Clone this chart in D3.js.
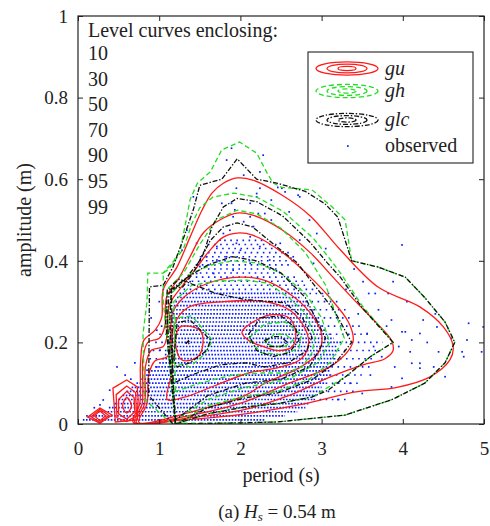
<!DOCTYPE html>
<html>
<head>
<meta charset="utf-8">
<script src="https://cdn.jsdelivr.net/npm/d3@7"></script>
<style>
body { margin: 0; background: #fff; }
text { font-family: "Liberation Serif", "Times New Roman", serif; fill: #222; }
</style>
</head>
<body>
<div id="chart"></div>
<script>
// level curves, [period (s), amplitude (m)]
const levels = [10, 30, 50, 70, 90, 95, 99];

const guCurves = [
  [99, [[0.68,0.004],[0.76,0.05],[0.77,0.15],[0.81,0.205],[0.95,0.23],[1.03,0.26],[1.05,0.33],[1.22,0.385],[1.38,0.458],[1.53,0.525],[1.65,0.566],[1.79,0.59],[1.96,0.603],[2.15,0.598],[2.52,0.56],[2.86,0.51],[3.23,0.427],[3.7,0.335],[4.21,0.287],[4.5,0.238],[4.62,0.19],[4.58,0.157],[4.33,0.115],[3.93,0.09],[3.4,0.078],[2.8,0.05],[2.06,0.025],[1.3,0.01]]],
  [95, [[0.7,0.004],[0.79,0.05],[0.8,0.16],[0.86,0.2],[1.0,0.21],[1.07,0.24],[1.09,0.31],[1.25,0.36],[1.38,0.41],[1.55,0.47],[1.79,0.505],[1.96,0.517],[2.15,0.512],[2.52,0.475],[2.86,0.42],[3.14,0.36],[3.42,0.3],[3.68,0.247],[3.86,0.205],[3.88,0.18],[3.78,0.16],[3.51,0.145],[3.1,0.115],[2.6,0.07],[2.06,0.036],[1.4,0.016]]],
  [90, [[0.72,0.004],[0.82,0.05],[0.83,0.14],[0.9,0.18],[1.05,0.19],[1.1,0.22],[1.12,0.29],[1.27,0.335],[1.45,0.38],[1.6,0.42],[1.79,0.458],[1.96,0.468],[2.15,0.463],[2.52,0.42],[2.86,0.36],[3.1,0.31],[3.33,0.25],[3.39,0.206],[3.33,0.18],[3.1,0.14],[2.6,0.1],[2.06,0.055],[1.4,0.022]]],
  [70, [[0.75,0.004],[0.85,0.05],[0.87,0.12],[0.95,0.155],[1.1,0.165],[1.14,0.2],[1.16,0.27],[1.3,0.31],[1.6,0.345],[2.0,0.36],[2.3,0.352],[2.6,0.32],[2.85,0.275],[3.0,0.22],[2.96,0.175],[2.7,0.135],[2.3,0.1],[2.06,0.07],[1.4,0.03]]],
  [50, [[1.1,0.06],[1.16,0.13],[1.18,0.24],[1.35,0.285],[1.8,0.3],[2.3,0.3],[2.6,0.28],[2.78,0.24],[2.84,0.2],[2.75,0.16],[2.5,0.14],[2.1,0.125],[1.7,0.095],[1.3,0.065]]],
  [30, [[2.02,0.225],[2.2,0.255],[2.4,0.268],[2.6,0.26],[2.68,0.225],[2.64,0.19],[2.47,0.18],[2.28,0.19],[2.1,0.205]]],
  [30, [[1.2,0.2],[1.26,0.238],[1.5,0.23],[1.54,0.2],[1.47,0.164],[1.28,0.157]]],
  [10, [[0.55,0.045],[0.6,0.065],[0.66,0.045],[0.6,0.027]]]
];

const guIslands = [
  [30, [[0.5,0.06],[0.6,0.08],[0.69,0.065],[0.7,0.03],[0.6,0.012],[0.5,0.025]]],
  [50, [[0.47,0.072],[0.6,0.093],[0.71,0.077],[0.72,0.02],[0.6,0.006],[0.48,0.015]]],
  [70, [[0.43,0.088],[0.6,0.108],[0.73,0.091],[0.74,0.059],[0.73,0.01],[0.46,0.005]]],
  [30, [[0.2,0.02],[0.27,0.032],[0.34,0.02],[0.27,0.008]]],
  [50, [[0.16,0.018],[0.27,0.036],[0.38,0.021],[0.27,0.004]]],
  [70, [[0.12,0.017],[0.27,0.039],[0.42,0.022],[0.27,0.002]]]
];

const ghCurves = [
  [99, [[1.15,0.002],[0.82,0.06],[0.8,0.22],[0.85,0.3],[0.86,0.37],[1.05,0.37],[1.17,0.397],[1.26,0.426],[1.29,0.458],[1.34,0.507],[1.38,0.55],[1.47,0.59],[1.63,0.618],[1.77,0.672],[1.99,0.691],[2.2,0.664],[2.33,0.615],[2.4,0.591],[2.51,0.58],[2.88,0.574],[3.13,0.532],[3.29,0.5],[3.37,0.40],[3.69,0.385],[4.03,0.36],[4.27,0.31],[4.52,0.25],[4.64,0.2],[4.52,0.15],[4.27,0.1],[3.87,0.06],[3.29,0.022],[2.46,0.005],[1.6,0.002]]],
  [95, [[1.2,0.0],[1.05,0.3],[1.05,0.37],[1.12,0.38],[1.3,0.43],[1.4,0.49],[1.5,0.53],[1.66,0.556],[1.92,0.566],[2.2,0.556],[2.52,0.522],[2.9,0.455],[3.1,0.405],[3.25,0.365],[3.5,0.29],[3.88,0.2],[3.6,0.165],[3.29,0.115],[2.88,0.066],[2.46,0.05],[2.06,0.042],[1.6,0.025]]],
  [90, [[1.2,0.0],[1.08,0.25],[1.1,0.33],[1.3,0.37],[1.5,0.44],[1.7,0.5],[1.96,0.524],[2.2,0.515],[2.5,0.48],[2.8,0.42],[3.05,0.34],[3.28,0.21],[3.1,0.15],[2.85,0.11],[2.46,0.08],[2.06,0.068],[1.6,0.045]]],
  [70, [[1.2,0.01],[1.12,0.25],[1.15,0.32],[1.4,0.37],[1.65,0.39],[1.9,0.40],[2.2,0.395],[2.5,0.37],[2.8,0.32],[3.0,0.26],[3.1,0.2],[2.95,0.15],[2.6,0.11],[2.06,0.09],[1.6,0.06]]],
  [50, [[1.2,0.08],[1.18,0.3],[1.4,0.34],[1.7,0.35],[2.06,0.353],[2.34,0.345],[2.59,0.311],[2.8,0.272],[2.92,0.213],[2.88,0.174],[2.76,0.14],[2.55,0.125],[2.27,0.125],[1.9,0.12],[1.5,0.1]]],
  [30, [[1.18,0.15],[1.2,0.26],[1.4,0.265],[1.66,0.205],[1.55,0.17],[1.38,0.14]]],
  [30, [[2.1,0.21],[2.3,0.245],[2.55,0.25],[2.75,0.22],[2.72,0.185],[2.5,0.17],[2.25,0.175]]],
  [10, [[2.3,0.2],[2.42,0.22],[2.55,0.22],[2.65,0.205],[2.55,0.19],[2.4,0.19]]]
];

const glcCurves = [
  [99, [[1.17,0.0],[0.87,0.07],[0.88,0.336],[1.05,0.34],[1.17,0.385],[1.29,0.45],[1.42,0.525],[1.5,0.585],[1.77,0.6],[1.96,0.65],[2.2,0.6],[2.46,0.59],[2.8,0.57],[3.04,0.54],[3.2,0.507],[3.37,0.40],[3.69,0.385],[4.03,0.36],[4.27,0.31],[4.52,0.25],[4.64,0.2],[4.52,0.15],[4.27,0.1],[3.87,0.06],[3.29,0.022],[2.46,0.005],[2.06,0.003]]],
  [95, [[1.2,0.0],[1.08,0.25],[1.1,0.33],[1.29,0.336],[1.42,0.37],[1.56,0.426],[1.65,0.483],[1.79,0.532],[1.96,0.553],[2.2,0.545],[2.52,0.51],[2.86,0.445],[3.07,0.395],[3.23,0.36],[3.5,0.285],[3.88,0.2],[3.6,0.165],[3.29,0.115],[3.08,0.083],[2.88,0.066],[2.46,0.05],[2.06,0.042],[1.6,0.025]]],
  [90, [[1.2,0.0],[1.1,0.25],[1.12,0.32],[1.3,0.35],[1.5,0.4],[1.63,0.45],[1.79,0.483],[1.96,0.493],[2.15,0.483],[2.45,0.434],[2.7,0.395],[2.86,0.353],[3.15,0.28],[3.37,0.2],[3.17,0.15],[2.88,0.108],[2.46,0.076],[2.06,0.064],[1.6,0.04]]],
  [70, [[1.2,0.01],[1.13,0.25],[1.15,0.33],[1.35,0.36],[1.6,0.39],[1.9,0.41],[2.2,0.4],[2.5,0.37],[2.8,0.31],[3.05,0.21],[2.85,0.14],[2.5,0.11],[2.06,0.1],[1.6,0.07]]],
  [50, [[1.17,0.1],[1.15,0.34],[1.25,0.355],[1.7,0.32],[2.06,0.305],[2.55,0.297],[2.76,0.262],[2.88,0.213],[2.82,0.18],[2.59,0.15],[2.3,0.14],[2.06,0.15],[1.75,0.145],[1.4,0.12]]],
  [30, [[1.18,0.16],[1.22,0.248],[1.38,0.255],[1.5,0.232],[1.63,0.206],[1.59,0.181],[1.38,0.15],[1.22,0.14]]],
  [30, [[2.1,0.22],[2.25,0.26],[2.5,0.265],[2.68,0.235],[2.72,0.205],[2.6,0.175],[2.4,0.165],[2.2,0.18]]],
  [10, [[2.3,0.205],[2.4,0.214],[2.5,0.214],[2.58,0.2],[2.5,0.19],[2.36,0.19]]],
  [10, [[1.33,0.198],[1.36,0.204],[1.38,0.199],[1.35,0.195]]]
];

// observed: dense runs per amplitude bin (amplitude, first and last period)
const obsRowAmp  = [0.01,0.02,0.03,0.04,0.05,0.06,0.07,0.08,0.09,0.10,0.11,0.12,0.13,0.14,0.15,0.16,0.17,0.18,0.19,0.20,0.21,0.22,0.23,0.24,0.25,0.26,0.27,0.28,0.29,0.30,0.31,0.32];
const obsRowFrom = [0.06,0.10,0.25,0.38,0.45,0.50,0.55,0.60,0.66,0.72,0.78,0.84,0.90,0.95,1.00,1.04,1.07,1.10,1.10,1.12,1.12,1.14,1.15,1.15,1.16,1.16,1.17,1.17,1.18,1.20,1.22,1.25];
const obsRowTo   = [2.30,2.55,2.70,2.80,2.85,2.90,2.95,3.00,3.00,3.05,3.05,3.10,3.10,3.12,3.15,3.15,3.18,3.20,3.20,3.22,3.15,3.10,3.05,3.00,2.98,2.95,2.92,2.90,2.85,2.80,2.75,2.70];

// observed: thinner runs at the fringe of the cloud
const fringeAmp  = [0.33,0.34,0.35,0.36,0.37,0.38,0.39,0.40,0.41,0.42,0.43,0.44,0.45,0.06,0.08,0.10,0.12,0.14,0.16,0.18,0.20,0.22,0.24,0.26,0.28,0.30,0.32,0.16,0.18,0.20,0.22,0.24];
const fringeFrom = [1.30,1.35,1.40,1.45,1.50,1.60,1.45,1.50,1.50,1.60,1.70,1.60,1.80,2.90,3.00,3.05,3.10,3.12,3.15,3.20,3.22,3.10,3.00,2.95,2.90,2.80,2.70,0.88,0.92,0.95,1.00,1.02];
const fringeTo   = [2.90,2.85,2.80,2.70,2.50,2.45,2.60,2.70,2.50,2.60,2.40,2.50,2.30,3.30,3.40,3.50,3.55,3.60,3.65,3.70,3.75,3.60,3.50,3.40,3.30,3.20,3.10,1.04,1.10,1.12,1.14,1.15];

// observed: isolated points
const obsT = [1.89,2.28,1.83,2.04,2.24,2.24,1.95,2.55,2.73,2.46,2.51,2.71,2.2,2.38,2.12,1.77,1.89,2.2,1.42,2.3,2.22,1.93,2.12,1.91,2.04,2.38,2.16,1.87,1.79,1.34,2.94,2.73,2.49,2.12,1.75,1.95,1.46,1.71,2.0,2.24,1.28,2.36,2.65,1.83,1.58,1.71,2.12,2.9,1.48,1.5,1.91,1.67,1.46,1.38,3.05,2.6,2.85,
  3.99,3.51,3.88,3.58,3.66,3.82,3.86,3.99,4.03,4.11,4.21,4.25,4.42,4.81,4.99,4.79,4.73,4.75,4.97,4.44,4.09,4.11,4.21,4.38,4.52,4.21,3.99,3.86,3.74,3.64,3.56,3.4,3.3,3.7,3.95,4.3,4.6,3.8,3.45,3.6,3.35,3.5,3.2,3.9,4.05,4.4,
  0.48,0.58,0.8,0.85,0.97,1.01,0.97,0.31,0.39,0.27,0.9,1.0,1.05,0.7,0.2,0.65];
const obsA = [0.676,0.659,0.647,0.61,0.618,0.578,0.578,0.569,0.557,0.58,0.578,0.561,0.557,0.549,0.541,0.541,0.541,0.565,0.557,0.516,0.516,0.525,0.508,0.508,0.496,0.5,0.484,0.475,0.467,0.475,0.467,0.451,0.443,0.459,0.451,0.443,0.443,0.435,0.426,0.435,0.426,0.402,0.41,0.41,0.41,0.402,0.394,0.394,0.39,0.386,0.377,0.369,0.369,0.349,0.43,0.52,0.5,
  0.439,0.349,0.349,0.32,0.32,0.32,0.255,0.226,0.226,0.206,0.222,0.255,0.238,0.247,0.238,0.206,0.177,0.165,0.177,0.177,0.177,0.149,0.149,0.14,0.116,0.137,0.112,0.091,0.165,0.19,0.222,0.38,0.33,0.28,0.19,0.2,0.21,0.24,0.27,0.12,0.1,0.075,0.06,0.14,0.3,0.27,
  0.14,0.12,0.153,0.132,0.14,0.181,0.23,0.059,0.083,0.047,0.26,0.3,0.33,0.15,0.04,0.11];

const xTicks = [0, 1, 2, 3, 4, 5];
const yTicks = [0, 0.2, 0.4, 0.6, 0.8, 1];
const legendNames = ['gu', 'gh', 'glc', 'observed'];

const W = 490, H = 526;
const m = {left: 78, right: 6, top: 16, bottom: 102};
const serif = '"Liberation Serif", "Times New Roman", serif';

const svg = d3.select('#chart').append('svg').attr('width', W).attr('height', H);

const x = d3.scaleLinear().domain([0, 5]).range([m.left, W - m.right]);
const y = d3.scaleLinear().domain([0, 1]).range([H - m.bottom, m.top]);

svg.append('clipPath').attr('id', 'plotClip')
  .append('rect')
  .attr('x', x(0)).attr('y', y(1))
  .attr('width', x(5) - x(0)).attr('height', y(0) - y(1));

const plot = svg.append('g').attr('clip-path', 'url(#plotClip)');

const blue = '#0a1eff';

// observed cloud
plot.selectAll('.row')
  .data(obsRowAmp)
  .enter().append('line')
  .attr('x1', (d, i) => x(obsRowFrom[i]))
  .attr('x2', (d, i) => x(obsRowTo[i]))
  .attr('y1', d => y(d)).attr('y2', d => y(d))
  .attr('stroke', blue).attr('stroke-width', 1.7)
  .attr('stroke-dasharray', '1.6 1.5');

plot.selectAll('.fringe')
  .data(fringeAmp)
  .enter().append('line')
  .attr('x1', (d, i) => x(fringeFrom[i]))
  .attr('x2', (d, i) => x(fringeTo[i]))
  .attr('y1', d => y(d)).attr('y2', d => y(d))
  .attr('stroke', blue).attr('stroke-width', 1.6)
  .attr('stroke-dasharray', '1.6 4.5');

plot.selectAll('.pt')
  .data(obsT)
  .enter().append('rect')
  .attr('x', d => x(d) - 0.8)
  .attr('y', (d, i) => y(obsA[i]) - 0.8)
  .attr('width', 1.7).attr('height', 1.7)
  .attr('fill', blue);

// level curves
const smooth = d3.line().x(d => x(d[0])).y(d => y(d[1])).curve(d3.curveCatmullRomClosed.alpha(0.5));
const poly = d3.line().x(d => x(d[0])).y(d => y(d[1])).curve(d3.curveLinearClosed);

const styles = {
  gu:  {stroke: '#ff1a1a', dash: null},
  gh:  {stroke: '#22dd22', dash: '5 3'},
  glc: {stroke: '#111', dash: '5 1.8 1.4 1.8'}
};

function drawCurves(list, gen, st) {
  plot.append('g').selectAll('path')
    .data(list)
    .enter().append('path')
    .attr('d', d => gen(d[1]))
    .attr('fill', 'none')
    .attr('stroke', st.stroke)
    .attr('stroke-width', 1.3)
    .attr('stroke-dasharray', st.dash);
}

drawCurves(guCurves, smooth, styles.gu);
drawCurves(guIslands, poly, styles.gu);
drawCurves(ghCurves, poly, styles.gh);
drawCurves(glcCurves, poly, styles.glc);

// axes, ticks inward on all four sides
const xAxis = d3.axisBottom(x).tickValues(xTicks).tickSizeInner(-5).tickSizeOuter(0).tickFormat(d3.format('d'));
const yAxis = d3.axisLeft(y).tickValues(yTicks).tickSizeInner(-5).tickSizeOuter(0).tickFormat(d => d === 0 || d === 1 ? d : d3.format('.1f')(d));

const gx = svg.append('g').attr('transform', 'translate(0,' + y(0) + ')').call(xAxis)
  .attr('font-family', serif).attr('font-size', 19);
gx.selectAll('text').attr('y', 31).attr('dy', null).attr('fill', '#222');

const gy = svg.append('g').attr('transform', 'translate(' + x(0) + ',0)').call(yAxis)
  .attr('font-family', serif).attr('font-size', 19);
gy.selectAll('text').attr('x', -10).attr('dy', '0.33em').attr('fill', '#222');

svg.append('g').attr('transform', 'translate(0,' + y(1) + ')')
  .call(d3.axisTop(x).tickValues(xTicks).tickSizeInner(-5).tickSizeOuter(0).tickFormat(''));
svg.append('g').attr('transform', 'translate(' + x(5) + ',0)')
  .call(d3.axisRight(y).tickValues(yTicks).tickSizeInner(-5).tickSizeOuter(0).tickFormat(''));

svg.selectAll('.domain').remove();
svg.selectAll('.tick line').attr('stroke', '#222');

svg.append('rect')
  .attr('x', x(0)).attr('y', y(1))
  .attr('width', x(5) - x(0)).attr('height', y(0) - y(1))
  .attr('fill', 'none').attr('stroke', '#222').attr('stroke-width', 1.2);

// axis titles
svg.append('text')
  .attr('x', (x(0) + x(5)) / 2).attr('y', 482)
  .attr('text-anchor', 'middle').style('font-size', '20px')
  .text('period (s)');

svg.append('text')
  .attr('transform', 'translate(31,' + ((y(0) + y(1)) / 2) + ') rotate(-90)')
  .attr('text-anchor', 'middle').style('font-size', '20px')
  .text('amplitude (m)');

const cap = svg.append('text')
  .attr('x', 277).attr('y', 518)
  .attr('text-anchor', 'middle').style('font-size', '19px');
cap.append('tspan').text('(a) ');
cap.append('tspan').style('font-style', 'italic').text('H');
cap.append('tspan').style('font-style', 'italic').style('font-size', '13px').attr('dy', 3).text('s');
cap.append('tspan').attr('dy', -3).text(' = 0.54 m');

// level list
svg.append('text')
  .attr('x', 88).attr('y', 37).style('font-size', '20px')
  .text('Level curves enclosing:');
svg.selectAll('.lvl')
  .data(levels)
  .enter().append('text')
  .attr('x', 88).attr('y', (d, i) => 60 + i * 25.6)
  .style('font-size', '20px')
  .text(d => d);

// legend
const lg = svg.append('g');
lg.append('rect')
  .attr('x', 308).attr('y', 52).attr('width', 165).attr('height', 111)
  .attr('fill', '#fff').attr('stroke', '#222').attr('stroke-width', 1.1);

const legRowY = [68.5, 91, 120, 146];
const legStyles = [styles.gu, styles.gh, styles.glc];
const rings = [[31, 6.6], [20, 4.4], [9, 2.1]];
legStyles.forEach((st, i) => {
  lg.selectAll('.ring' + i)
    .data(rings)
    .enter().append('ellipse')
    .attr('cx', 347).attr('cy', legRowY[i])
    .attr('rx', d => d[0]).attr('ry', d => d[1])
    .attr('fill', 'none').attr('stroke', st.stroke)
    .attr('stroke-width', 1.3).attr('stroke-dasharray', st.dash);
});
lg.append('rect')
  .attr('x', 347).attr('y', legRowY[3] - 0.8)
  .attr('width', 1.7).attr('height', 1.7).attr('fill', blue);

lg.selectAll('.lname')
  .data(legendNames)
  .enter().append('text')
  .attr('x', 385).attr('y', (d, i) => legRowY[i] + 6)
  .style('font-size', '20px')
  .style('font-style', (d, i) => i < 3 ? 'italic' : 'normal')
  .text(d => d);
</script>
</body>
</html>
